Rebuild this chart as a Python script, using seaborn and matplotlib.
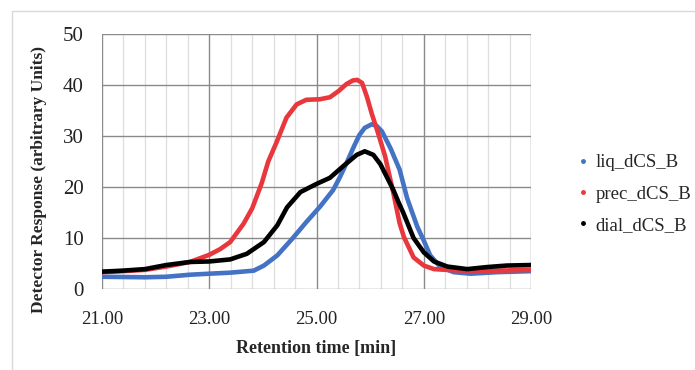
import matplotlib
matplotlib.use("Agg")
import matplotlib.pyplot as plt
import seaborn as sns
import pandas as pd
import numpy as np
from matplotlib.lines import Line2D
from matplotlib.patches import Rectangle

# values
liq_t = [21.0, 21.4, 21.8, 22.2, 22.64, 23.0, 23.39, 23.83, 24.02, 24.27, 24.56,
         24.8, 25.07, 25.31, 25.44, 25.56, 25.7, 25.8, 25.9, 26.03, 26.12, 26.22,
         26.38, 26.55, 26.69, 26.88, 27.0, 27.12, 27.31, 27.56, 27.87, 28.37, 29.0]
liq_y = [2.4, 2.35, 2.3, 2.4, 2.8, 3.0, 3.2, 3.6, 4.6, 6.6, 10.0,
         13.0, 16.2, 19.4, 22.0, 24.7, 28.0, 30.2, 31.6, 32.3, 32.0, 30.9,
         27.6, 23.4, 17.8, 12.2, 9.5, 6.6, 4.3, 3.3, 3.0, 3.3, 3.5]

prec_t = [21.0, 21.4, 21.8, 22.2, 22.64, 23.0, 23.2, 23.39, 23.64, 23.8, 23.98,
          24.1, 24.26, 24.44, 24.63, 24.81, 25.06, 25.25, 25.41, 25.56, 25.68,
          25.76, 25.85, 25.94, 26.03, 26.15, 26.28, 26.44, 26.55, 26.63, 26.81,
          27.0, 27.19, 27.5, 27.75, 28.37, 29.0]
prec_y = [3.3, 3.5, 3.75, 4.4, 5.3, 6.7, 7.8, 9.2, 12.8, 15.8, 20.8,
          25.0, 28.9, 33.6, 36.2, 37.1, 37.2, 37.6, 38.8, 40.2, 40.9,
          41.0, 40.4, 37.7, 34.4, 30.5, 26.0, 18.5, 12.9, 10.2, 6.2,
          4.6, 3.9, 3.7, 3.6, 3.6, 3.75]

dial_t = [21.0, 21.39, 21.8, 22.2, 22.64, 23.0, 23.39, 23.7, 24.02, 24.27, 24.45,
          24.7, 25.0, 25.25, 25.5, 25.75, 25.9, 26.06, 26.19, 26.43, 26.53, 26.62,
          26.81, 27.0, 27.19, 27.44, 27.81, 28.18, 28.55, 29.0]
dial_y = [3.4, 3.6, 3.9, 4.7, 5.3, 5.4, 5.8, 6.9, 9.2, 12.5, 16.0,
          19.0, 20.6, 21.8, 24.1, 26.3, 27.0, 26.3, 24.5, 19.5, 17.0, 14.9,
          10.0, 7.2, 5.4, 4.4, 3.9, 4.3, 4.6, 4.7]

names = ["liq_dCS_B", "prec_dCS_B", "dial_dCS_B"]
colors = ["#4472C4", "#E8383D", "#000000"]

df = pd.concat([
    pd.DataFrame({"t": liq_t, "y": liq_y, "sample": names[0]}),
    pd.DataFrame({"t": prec_t, "y": prec_y, "sample": names[1]}),
    pd.DataFrame({"t": dial_t, "y": dial_y, "sample": names[2]}),
])

sns.set_style("white")
plt.rcParams["font.family"] = ["Liberation Serif", "DejaVu Serif"]

fig = plt.figure(figsize=(6.95, 3.70), dpi=100)
ax = fig.add_axes([102 / 695, 1 - 289 / 370, (531 - 102) / 695, (289 - 34) / 370])

sns.lineplot(data=df, x="t", y="y", hue="sample", palette=colors, sort=False,
             linewidth=3.3, legend=False, ax=ax)

ax.set_xlim(21, 29)
ax.set_ylim(0, 50)
ax.set_xticks(np.arange(21, 29.01, 2))
ax.set_xticks(np.arange(21, 29.01, 0.4), minor=True)
ax.set_yticks(np.arange(0, 51, 10))
ax.set_xticklabels([f"{v:.2f}" for v in np.arange(21, 29.01, 2)])
ax.grid(which="major", color="#8a8a8a", linewidth=1.0)
ax.grid(which="minor", axis="x", color="#dedede", linewidth=0.9)
ax.set_axisbelow(True)
for s in ax.spines.values():
    s.set_visible(False)
ax.tick_params(axis="x", which="both", length=0, labelsize=13.5, colors="#222222", pad=16)
ax.tick_params(axis="y", which="both", length=0, labelsize=15, colors="#222222", pad=13)

ax.set_xlabel("Retention time [min]", fontsize=13, fontweight="bold")
ax.xaxis.set_label_coords(0.5, -0.2)
ax.set_ylabel("Detector Response (arbitrary Units)", fontsize=12.5, fontweight="bold")
ax.yaxis.set_label_coords(-0.128, 0.43)

handles = [Line2D([], [], linestyle="none", marker="o", markersize=2.5, color=c) for c in colors]
fig.legend(handles, names, loc="center left", bbox_to_anchor=(578 / 695, 1 - 194 / 370),
           frameon=False, fontsize=13.5, handlelength=0.5, handletextpad=0.45, labelspacing=0.75,
           borderaxespad=0, borderpad=0)

fig.patches.append(Rectangle((12 / 695, -0.05), 1.0, 1 - 11 / 370 + 0.05, transform=fig.transFigure,
                             fill=False, edgecolor="#d9d9d9", linewidth=1.0))

fig.savefig("out.png", dpi=100)
